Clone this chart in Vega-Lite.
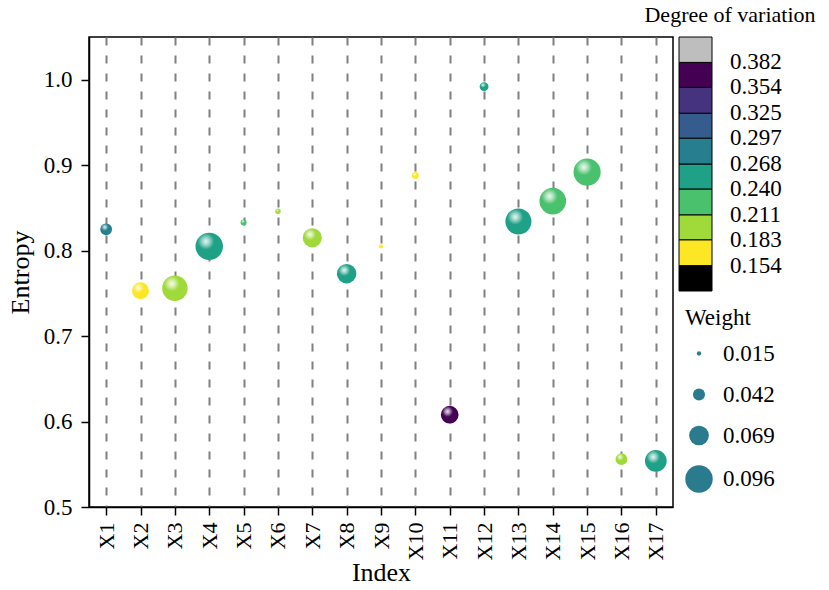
{
  "$schema": "https://vega.github.io/schema/vega-lite/v6.json",
  "width": 584,
  "height": 470,
  "autosize": "none",
  "padding": {"left": 89, "top": 37, "right": 156, "bottom": 83},
  "background": "white",
  "config": {
    "font": "Liberation Serif",
    "view": {"stroke": "black", "strokeWidth": 1.5},
    "axis": {
      "domainColor": "black",
      "domainWidth": 1.5,
      "tickColor": "black",
      "tickWidth": 1.5,
      "tickSize": 8,
      "labelColor": "black",
      "labelFontSize": 23,
      "titleColor": "black",
      "titleFontSize": 26,
      "titleFontWeight": "normal"
    },
    "legend": {
      "labelColor": "black",
      "labelFontSize": 23,
      "titleColor": "black",
      "titleFontSize": 23,
      "titleFontWeight": "normal"
    }
  },
  "data": {
    "values": [
      {"Index": "X1", "Entropy": 0.825, "Weight": 0.041, "Variation": 0.280},
      {"Index": "X2", "Entropy": 0.753, "Weight": 0.059, "Variation": 0.170},
      {"Index": "X3", "Entropy": 0.756, "Weight": 0.089, "Variation": 0.200},
      {"Index": "X4", "Entropy": 0.805, "Weight": 0.096, "Variation": 0.252},
      {"Index": "X5", "Entropy": 0.833, "Weight": 0.021, "Variation": 0.228},
      {"Index": "X6", "Entropy": 0.846, "Weight": 0.019, "Variation": 0.195},
      {"Index": "X7", "Entropy": 0.815, "Weight": 0.067, "Variation": 0.200},
      {"Index": "X8", "Entropy": 0.773, "Weight": 0.068, "Variation": 0.255},
      {"Index": "X9", "Entropy": 0.805, "Weight": 0.015, "Variation": 0.170},
      {"Index": "X10", "Entropy": 0.888, "Weight": 0.024, "Variation": 0.160},
      {"Index": "X11", "Entropy": 0.608, "Weight": 0.062, "Variation": 0.370},
      {"Index": "X12", "Entropy": 0.992, "Weight": 0.031, "Variation": 0.250},
      {"Index": "X13", "Entropy": 0.834, "Weight": 0.091, "Variation": 0.253},
      {"Index": "X14", "Entropy": 0.858, "Weight": 0.093, "Variation": 0.225},
      {"Index": "X15", "Entropy": 0.892, "Weight": 0.095, "Variation": 0.222},
      {"Index": "X16", "Entropy": 0.556, "Weight": 0.041, "Variation": 0.195},
      {"Index": "X17", "Entropy": 0.554, "Weight": 0.076, "Variation": 0.256}
    ]
  },
  "encoding": {
    "x": {
      "field": "Index",
      "type": "ordinal",
      "sort": null,
      "scale": {"type": "point", "padding": 0.5},
      "axis": {
        "title": "Index",
        "labelAngle": -90,
        "labelPadding": 7,
        "labelFontSize": 22,
        "titlePadding": 0,
        "grid": true,
        "gridDash": [8, 10],
        "gridColor": "#808080",
        "gridWidth": 2
      }
    },
    "y": {
      "field": "Entropy",
      "type": "quantitative",
      "scale": {"domain": [0.5, 1.05], "nice": false, "zero": false},
      "axis": {
        "title": "Entropy",
        "values": [0.5, 0.6, 0.7, 0.8, 0.9, 1.0],
        "format": ".1f",
        "grid": false,
        "labelPadding": 9,
        "titlePadding": 10
      }
    },
    "size": {
      "field": "Weight",
      "type": "quantitative",
      "scale": {"type": "pow", "exponent": 2, "domain": [0, 0.1], "range": [0, 819]},
      "legend": {
        "title": "Weight",
        "values": [0.015, 0.042, 0.069, 0.096],
        "format": ".3f",
        "orient": "none",
        "legendX": 596,
        "legendY": 270,
        "direction": "vertical",
        "symbolFillColor": "#2a7b8e",
        "symbolStrokeWidth": 0,
        "symbolOpacity": 1,
        "symbolType": "circle",
        "labelOffset": 10,
        "rowPadding": 17,
        "titlePadding": 12,
        "encode": {
          "symbols": {
            "update": {
              "fill": {"value": "#2a7b8e"},
              "fillOpacity": {"value": 1},
              "opacity": {"value": 1},
              "strokeWidth": {"value": 0}
            }
          }
        }
      }
    }
  },
  "layer": [
    {
      "mark": {"type": "point", "filled": true, "opacity": 1, "strokeWidth": 0},
      "encoding": {
        "color": {
          "field": "Variation",
          "type": "quantitative",
          "scale": {
            "type": "threshold",
            "domain": [0.154, 0.183, 0.211, 0.240, 0.268, 0.297, 0.325, 0.354, 0.382],
            "range": ["#000000", "#FDE725", "#9FDA3A", "#4AC16D", "#1FA187", "#277F8E", "#365C8D", "#46337E", "#440154", "#BEBEBE"]
          },
          "legend": {
            "type": "gradient",
            "title": "Degree of variation",
            "titleFontSize": 22,
            "titleAnchor": "middle",
            "titleAlign": "center",
            "orient": "none",
            "legendX": 555,
            "legendY": -32,
            "gradientLength": 254,
            "gradientThickness": 33,
            "gradientStrokeColor": "black",
            "gradientStrokeWidth": 1,
            "format": ".3f",
            "labelOffset": 18,
            "titlePadding": 10
          }
        }
      }
    },
    {
      "mark": {
        "type": "point",
        "filled": true,
        "opacity": 1,
        "strokeWidth": 0,
        "fill": {
          "gradient": "radial",
          "x1": 0.38, "y1": 0.32, "r1": 0,
          "x2": 0.38, "y2": 0.32, "r2": 0.3,
          "stops": [
            {"offset": 0, "color": "rgba(255,255,255,0.9)"},
            {"offset": 0.45, "color": "rgba(255,255,255,0.55)"},
            {"offset": 1, "color": "rgba(255,255,255,0)"}
          ]
        }
      }
    }
  ]
}
